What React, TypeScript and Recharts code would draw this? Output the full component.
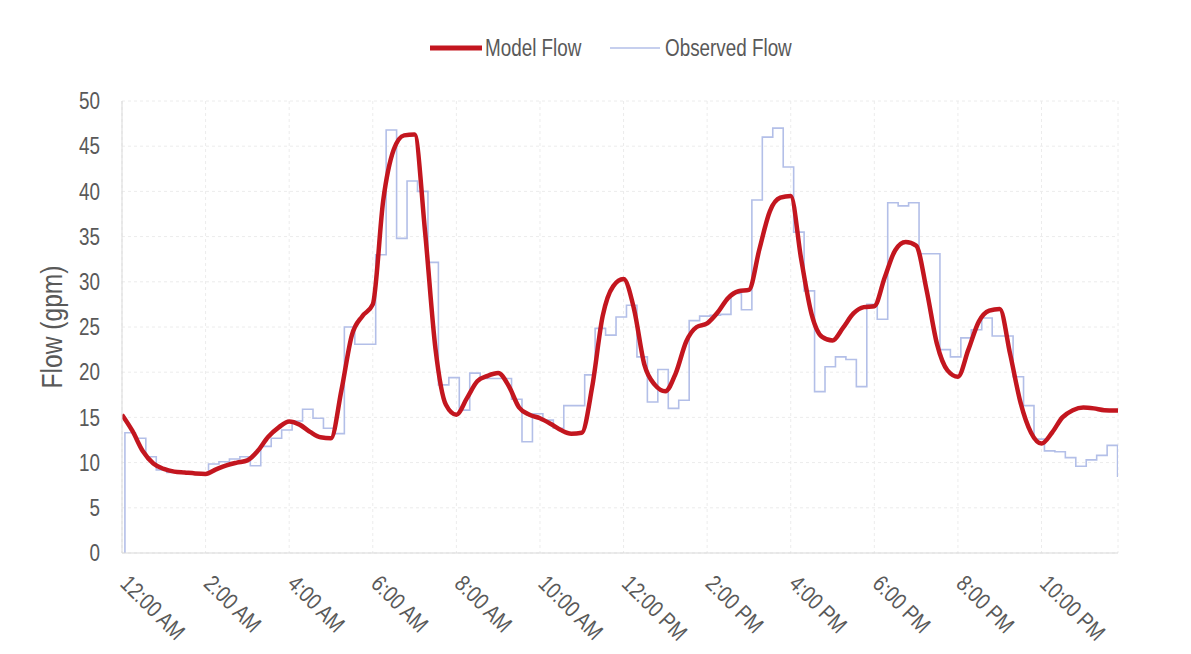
import React from "react";
import { LineChart, Line, XAxis, YAxis, CartesianGrid } from "recharts";

const FONT = '"Liberation Sans", Arial, sans-serif';
const NARROW = 0.82; // condensed look of the original typeface
const TEXT = "#595959";
const MODEL_COLOR = "#c3161f";
const OBS_COLOR = "#b3bfe8";

// x axis: hours since midnight
const tickHours = [0, 2, 4, 6, 8, 10, 12, 14, 16, 18, 20, 22];
const tickLabels = [
  "12:00 AM", "2:00 AM", "4:00 AM", "6:00 AM", "8:00 AM", "10:00 AM",
  "12:00 PM", "2:00 PM", "4:00 PM", "6:00 PM", "8:00 PM", "10:00 PM",
];
const yTicks = [0, 5, 10, 15, 20, 25, 30, 35, 40, 45, 50];
const dayEnd = 23.83;

// model flow, sampled every 15 minutes from 12:00 AM
const modelStep = 0.25;
const modelFlow = [
  15.3, 13.5, 11.25, 9.9, 9.3, 9.0, 8.9, 8.8, 8.75, 9.25,
  9.7, 10.0, 10.25, 11.3, 12.85, 13.9, 14.55, 14.2, 13.4, 12.8,
  12.7, 18.0, 24.1, 26.2, 27.5, 39.0, 44.6, 46.2, 46.3, 35.6,
  22.6, 16.4, 15.3, 17.1, 19.0, 19.6, 19.9, 18.5, 16.1, 15.3,
  14.9, 14.3, 13.6, 13.2, 13.3, 18.4, 26.2, 29.5, 30.3, 27.0,
  20.8, 18.6, 17.9, 19.9, 23.4, 25.0, 25.4, 26.6, 28.2, 28.95,
  29.1, 33.6, 37.8, 39.3, 39.5, 32.5, 26.4, 23.9, 23.5, 24.9,
  26.5, 27.2, 27.3, 30.5, 33.5, 34.4, 34.0, 29.1, 23.1, 20.2,
  19.5, 22.5, 25.6, 26.8, 27.0, 22.0, 16.6, 13.3, 12.1, 13.3,
  15.0, 15.8, 16.1, 16.0, 15.8, 15.75,
];
const modelEnd = 15.75;

// observed flow, 15 minute readings (step line)
const obsStart = 0.07;
const obsStep = 0.25;
const obsInitial = 0;
const observedFlow = [
  13.3, 12.7, 10.65, 9.2, 8.9, 8.9, 8.8, 8.8, 9.85, 10.1,
  10.4, 10.65, 9.65, 11.8, 12.7, 13.6, 14.6, 15.9, 14.9, 13.8,
  13.2, 25.0, 23.1, 23.1, 33.0, 46.8, 34.8, 41.15, 40.0, 32.15,
  18.6, 19.4, 15.8, 19.9, 19.3, 19.3, 19.3, 17.0, 12.3, 15.4,
  14.7, 13.8, 16.3, 16.3, 19.7, 24.85, 24.1, 26.1, 27.4, 21.7,
  16.7, 20.3, 16.0, 16.9, 25.7, 26.2, 26.3, 26.4, 28.7, 26.9,
  39.05, 46.0, 47.0, 42.7, 35.5, 29.0, 17.85, 20.6, 21.7, 21.4,
  18.4, 27.5, 25.85, 38.75, 38.4, 38.75, 33.1, 33.1, 22.5, 21.7,
  23.8, 24.7, 26.0, 24.0, 24.0, 19.5, 16.3, 12.6, 11.3, 11.2,
  10.55, 9.6, 10.3, 10.8, 11.9,
];
const obsFinal = 8.4;

const modelRows = [
  ...modelFlow.map((v, i) => ({ t: i * modelStep, model: v })),
  { t: dayEnd, model: modelEnd },
];

const observedRows = [
  { t: obsStart, obs: obsInitial },
  ...observedFlow.map((v, i) => ({ t: obsStart + i * obsStep, obs: v })),
  { t: obsStart + observedFlow.length * obsStep, obs: obsFinal },
];

// text drawn at (x, y), optionally rotated, squeezed horizontally
function NarrowText({ x, y, angle = 0, anchor = "start", size = 23, dy, baseline, children }: any) {
  return (
    <text
      x={0}
      y={0}
      dy={dy}
      dominantBaseline={baseline}
      transform={`translate(${x}, ${y}) rotate(${angle}) scale(${NARROW}, 1)`}
      textAnchor={anchor}
      fill={TEXT}
      fontSize={size}
      fontFamily={FONT}
    >
      {children}
    </text>
  );
}

const XTick = (props: any) => {
  const { x, y, payload } = props;
  const idx = tickHours.indexOf(payload.value);
  return (
    <NarrowText x={x - 3} y={y + 24} angle={45}>
      {tickLabels[idx]}
    </NarrowText>
  );
};

const YTick = (props: any) => {
  const { x, y, payload } = props;
  return (
    <NarrowText x={x} y={y} anchor="end" dy="0.355em">
      {payload.value}
    </NarrowText>
  );
};

export default function App() {
  const W = 1175;
  const H = 644;
  return (
    <div style={{ position: "relative", width: W, height: H, background: "#fff" }}>
      <LineChart
        width={W}
        height={H}
        margin={{ top: 93, right: 65, bottom: 19, left: 54 }}
      >
        <CartesianGrid stroke="#ececec" strokeDasharray="3 3" />
        <XAxis
          type="number"
          dataKey="t"
          domain={[0, dayEnd]}
          ticks={tickHours}
          allowDataOverflow
          height={80}
          tick={<XTick />}
          tickLine={false}
          axisLine={{ stroke: "#d9d9d9" }}
        />
        <YAxis
          type="number"
          domain={[0, 50]}
          ticks={yTicks}
          width={60}
          tickSize={0}
          tickMargin={22}
          tickLine={false}
          axisLine={{ stroke: "#d9d9d9" }}
          tick={<YTick />}
        />
        <Line
          data={observedRows}
          dataKey="obs"
          type="stepAfter"
          stroke={OBS_COLOR}
          strokeWidth={1.6}
          dot={false}
          activeDot={false}
          isAnimationActive={false}
        />
        <Line
          data={modelRows}
          dataKey="model"
          type="monotone"
          stroke={MODEL_COLOR}
          strokeWidth={4.5}
          dot={false}
          activeDot={false}
          isAnimationActive={false}
        />
      </LineChart>
      <svg
        width={W}
        height={H}
        style={{ position: "absolute", left: 0, top: 0, pointerEvents: "none" }}
      >
        <NarrowText x={54} y={319} angle={-90} anchor="middle" size={30}>
          Flow (gpm)
        </NarrowText>
        <line x1={422} x2={474} y1={40} y2={40} stroke={MODEL_COLOR} strokeWidth={5} />
        <NarrowText x={477} y={40} baseline="central">
          Model Flow
        </NarrowText>
        <line x1={602} x2={652} y1={40} y2={40} stroke={OBS_COLOR} strokeWidth={1.6} />
        <NarrowText x={657} y={40} baseline="central">
          Observed Flow
        </NarrowText>
      </svg>
    </div>
  );
}
